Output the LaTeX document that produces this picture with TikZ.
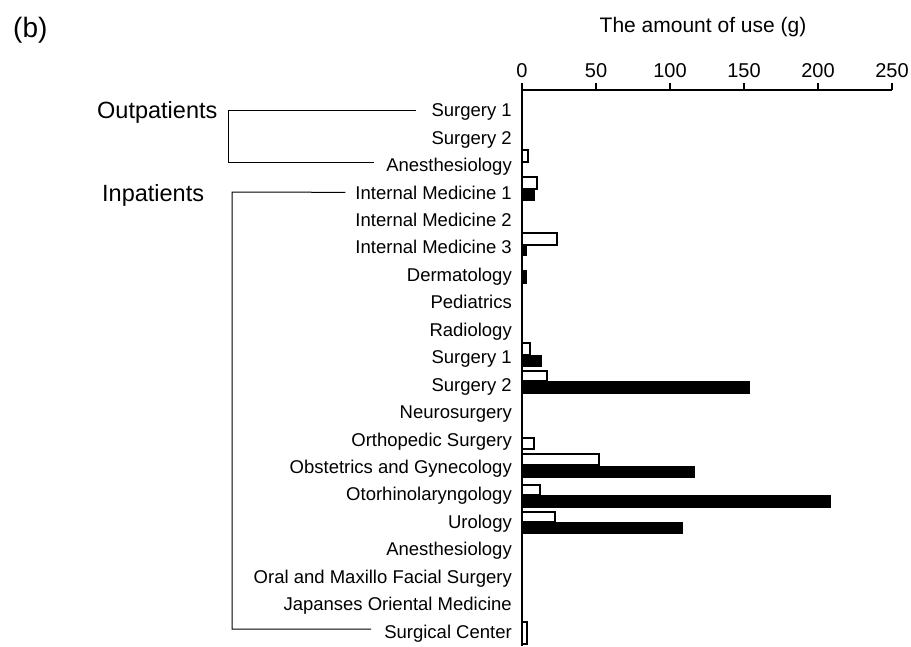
\documentclass[tikz,border=0pt]{standalone}
\usepackage{fontspec}
\setmainfont{Liberation Sans}
\begin{document}
\begin{tikzpicture}[x=1pt,y=-1pt,
  dept/.style={anchor=east,inner sep=0pt,text height=13.3pt,text depth=0pt,font=\fontsize{18.5}{20}\selectfont},
  grp/.style={anchor=west,inner sep=0pt,text height=16.8pt,text depth=0pt,font=\fontsize{23.5}{26}\selectfont},
  ticklab/.style={anchor=base,inner sep=0pt,font=\fontsize{20}{22}\selectfont},
  openbar/.style={draw=black,fill=white,line width=1.1pt},
  fullbar/.style={draw=black,fill=black,line width=1.1pt},
  axisline/.style={line width=1.4pt},
  bracket/.style={line width=1pt}]
\useasboundingbox (0,0) rectangle (911,646);

% panel label and axis title
\node[anchor=base west,inner sep=0pt,font=\fontsize{28}{30}\selectfont] (panel) at (13,37) {(b)};
\node[anchor=base,inner sep=0pt,font=\fontsize{21}{24}\selectfont] (title) at (703,32) {The amount of use (g)};

% axis
\coordinate (o) at (522,90);
\coordinate (xe) at (892,90);
\coordinate (ye) at (522,646);
\draw[axisline] (xe) -- (o) -- (ye);
\foreach \v in {0,50,100,150,200,250}{
  \coordinate (tk\v) at ({522+1.48*\v},83);
  \draw[axisline] (tk\v) -- ({522+1.48*\v},90);
  \node[ticklab] (t\v) at ({522+1.48*\v},77) {\v};
}

% department labels
\foreach \i/\t in {0/Surgery 1,1/Surgery 2,2/Anesthesiology,3/Internal Medicine 1,
  4/Internal Medicine 2,5/Internal Medicine 3,6/Dermatology,7/Pediatrics,8/Radiology,
  9/Surgery 1,10/Surgery 2,11/Neurosurgery,12/Orthopedic Surgery,
  13/Obstetrics and Gynecology,14/Otorhinolaryngology,15/Urology,16/Anesthesiology,
  17/Oral and Maxillo Facial Surgery,18/Japanses Oriental Medicine,19/Surgical Center}{
  \node[dept] (d\i) at (512,{110+27.45*\i}) {\t};
}

% group labels and brackets
\node[grp] (outp) at (97,110) {Outpatients};
\node[grp] (inp) at (102,193) {Inpatients};
\coordinate (oTop) at (228,110);
\coordinate (oBot) at (228,162);
\coordinate (iTop) at (232,192);
\coordinate (iBot) at (232,629);
\draw[bracket] ([xshift=-15pt]d0.west) -- (oTop) -- (oBot) -- ([xshift=-12pt]d2.west |- oBot);
\draw[bracket] ([xshift=-10pt]d3.west) -- (iTop) -- (iBot) -- ([xshift=-13pt]d19.west |- iBot);

% bars (open = upper, black = lower)
\draw[openbar] (522,150) rectangle (528,162);
\draw[openbar] (522,177) rectangle (537,189);
\draw[fullbar] (522,189) rectangle (534,200);
\draw[openbar] (522,233) rectangle (557,245);
\draw[fullbar] (522,245) rectangle (526,255);
\draw[fullbar] (522,271) rectangle (526,283);
\draw[openbar] (522,343) rectangle (530,355);
\draw[fullbar] (522,356) rectangle (541,366);
\draw[openbar] (522,371) rectangle (547,381);
\draw[fullbar] (522,382) rectangle (749,393);
\draw[openbar,line width=1.8pt] (522,438) rectangle (534,449);
\draw[openbar] (522,454) rectangle (599,465);
\draw[fullbar] (522,467) rectangle (694,477);
\draw[openbar] (522,485) rectangle (540,495);
\draw[fullbar] (522,496) rectangle (830,507);
\draw[openbar] (522,512) rectangle (555,522);
\draw[fullbar] (522,523) rectangle (682,533);
\draw[openbar] (522,622) rectangle (527,644);
\end{tikzpicture}
\end{document}
